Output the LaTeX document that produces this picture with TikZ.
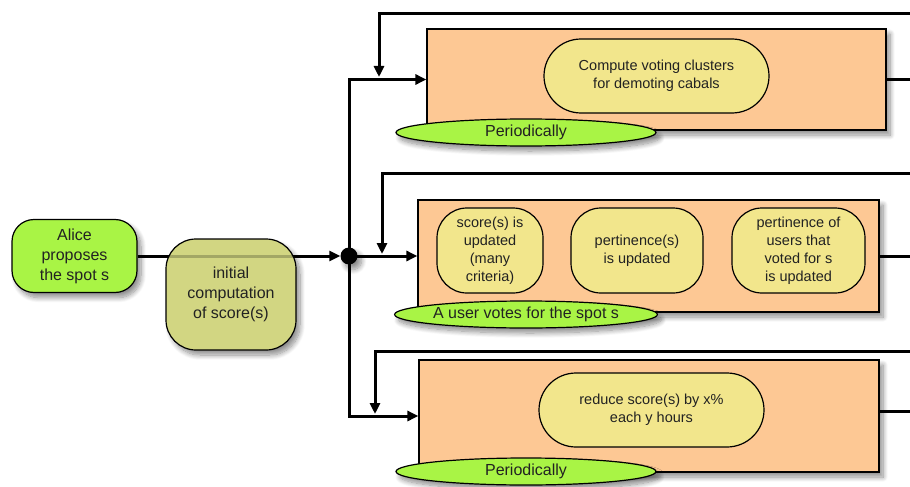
\documentclass[tikz,border=0pt]{standalone}
\usepackage{fontspec}
\setmainfont{Liberation Sans}
\usetikzlibrary{arrows.meta,shadows.blur,shapes.geometric}

\definecolor{limegreen}{HTML}{A9F445}
\definecolor{olivebox}{HTML}{D2D682}
\definecolor{peach}{HTML}{FDC894}
\definecolor{paleyellow}{HTML}{F2E68C}
\definecolor{ink}{HTML}{222222}

\begin{document}
\begin{tikzpicture}[x=1pt,y=-1pt,
  soft/.style={blur shadow={shadow xshift=4pt,shadow yshift=-5pt,shadow blur radius=5pt,shadow blur steps=10,shadow opacity=45}},
  bigtext/.style={text=ink,align=center,font=\fontsize{16}{20}\selectfont},
  smalltext/.style={text=ink,align=center,font=\fontsize{14.5}{18}\selectfont},
  startbox/.style={soft,draw=black,line width=1.2pt,fill=limegreen,rounded corners=22pt,
    minimum width=125pt,minimum height=73pt,inner sep=0pt,bigtext},
  initbox/.style={soft,draw=black,line width=1.2pt,fill=olivebox,
    rounded corners=30pt,minimum width=130pt,minimum height=111pt,inner sep=0pt,bigtext},
  stage/.style={soft,draw=black,line width=1.2pt,fill=peach,inner sep=0pt},
  task/.style={draw=black,line width=1.2pt,fill=paleyellow,inner sep=0pt,smalltext},
  widetask/.style={task,minimum width=225pt,minimum height=74pt,rounded corners=37pt},
  talltask/.style={task,minimum height=85pt,rounded corners=30pt},
  trigger/.style={soft,ellipse,draw=black,line width=1.2pt,fill=limegreen,minimum width=260pt,
    minimum height=27pt,inner sep=0pt,bigtext},
  junction/.style={soft,circle,fill=black,minimum size=17pt,inner sep=0pt},
  conn/.style={line width=3pt,-{Triangle[length=11pt,width=10pt]}},
  wire/.style={line width=3pt}]

\useasboundingbox (0,0) rectangle (910,487);

% start node and junction
\node[startbox] (alice) at (74.5,256) {Alice\\proposes\\the spot s};
\node[junction] (dot) at (349,256) {};

% the start line runs behind the translucent first computation box
\draw[conn] (alice.east) -- (dot.west);
\node[initbox,path picture={\draw[line width=3pt,black,opacity=.22] (alice.east) -- (dot.west);}]
  (init) at (231,294.5) {initial\\computation\\of score(s)};

% the three processing stages
\node[stage,minimum width=459pt,minimum height=101pt] (b1) at (656.5,79.5) {};
\node[stage,minimum width=461pt,minimum height=112pt] (b2) at (648.5,256) {};
\node[stage,minimum width=460pt,minimum height=112pt] (b3) at (649,416) {};

\node[widetask] (t1) at (656.5,76) {Compute voting clusters\\for demoting cabals};
\node[talltask,minimum width=106pt] (t2a) at (490,250.5) {score(s) is\\updated\\(many\\criteria)};
\node[talltask,minimum width=132pt] (t2b) at (637,250.5) {pertinence(s)\\is updated};
\node[talltask,minimum width=133pt] (t2c) at (798.5,250.5) {pertinence of\\users that\\voted for s\\is updated};
\node[widetask] (t3) at (651.5,410) {reduce score(s) by x\%\\each y hours};

\node[trigger] (p1) at (526,132.5) {Periodically};
\node[trigger] (p2) at (526,314.5) {A user votes for the spot s};
\node[trigger] (p3) at (526,471.5) {Periodically};

% loose ends at the right border and merge points
\coordinate (fb1) at (910,14);
\coordinate (fb2) at (910,173);
\coordinate (fb3) at (910,351);
\coordinate (j1) at (379,77);
\coordinate (j2) at (382,254);
\coordinate (j3) at (375,414);
\coordinate (o1) at (910,79.5);
\coordinate (o2) at (910,256);
\coordinate (o3) at (910,411);

\draw[conn] (dot.center) |- (b1.west);
\draw[conn] (dot.center) -- (b2.west);
\draw[conn] (dot.center) |- (b3.west);

\draw[conn] (fb1) -| (j1);
\draw[conn] (fb2) -| (j2);
\draw[conn] (fb3) -| (j3);

\draw[wire] (b1.east) -- (o1);
\draw[wire] (b2.east) -- (o2);
\draw[wire] (o3 -| b3.east) -- (o3);
\end{tikzpicture}
\end{document}
